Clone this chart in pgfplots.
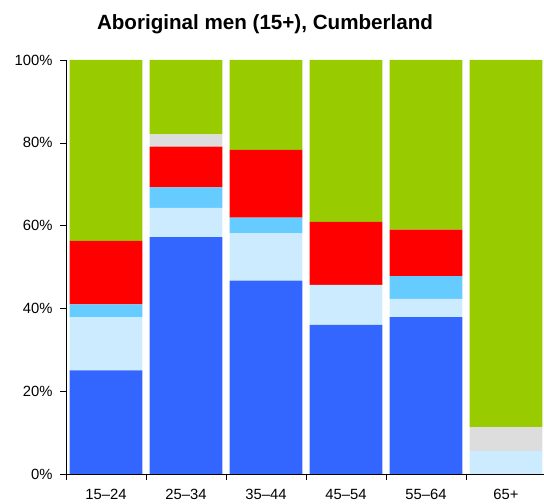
\documentclass[border=0pt]{standalone}
\usepackage{pgfplots}
\pgfplotsset{compat=1.18}
\usepackage{fontspec}
\setmainfont{Liberation Sans}
\definecolor{cblue}{HTML}{3366FF}
\definecolor{clblue}{HTML}{CCEBFF}
\definecolor{ccyan}{HTML}{66CCFF}
\definecolor{cred}{HTML}{FF0000}
\definecolor{cgray}{HTML}{DDDDDD}
\definecolor{cgreen}{HTML}{99CC00}
\begin{document}
\begin{tikzpicture}
\useasboundingbox (-66bp,-30bp) rectangle (478bp,474bp);
\begin{axis}[
  at={(0,0)}, anchor=south west,
  scale only axis,
  width=477.6bp, height=414bp,
  ybar stacked,
  bar width=0.91,
  xmin=-0.5, xmax=5.47,
  ymin=0, ymax=100,
  axis x line*=bottom, axis y line*=left,
  axis line style={black, line width=0.8bp},
  xtick={0,1,2,3,4,5},
  xticklabels={15–24,25–34,35–44,45–54,55–64,65+},
  minor xtick={-0.5,0.5,1.5,2.5,3.5,4.5},
  major x tick style={draw=none},
  minor x tick style={black, line width=0.5bp},
  y tick style={black, line width=0.5bp},
  tick align=outside,
  major tick length=6bp,
  minor tick length=6bp,
  ytick={0,20,40,60,80,100},
  yticklabel={\pgfmathprintnumber{\tick}\%},
  /pgf/number format/assume math mode=true,
  tick label style={font=\fontsize{14.8bp}{17bp}\selectfont},
  yticklabel style={xshift=-4bp},
  xticklabel style={yshift=-6bp},
  every axis plot/.append style={draw=none},
]
\addplot[fill=cblue]  coordinates {(0,25.0) (1,57.2) (2,46.7) (3,36.0) (4,37.9) (5,0)};
\addplot[fill=clblue] coordinates {(0,12.85) (1,7.1) (2,11.4) (3,9.7) (4,4.4) (5,5.6)};
\addplot[fill=ccyan]  coordinates {(0,3.15) (1,4.95) (2,3.8) (3,0) (4,5.5) (5,0)};
\addplot[fill=cred]   coordinates {(0,15.3) (1,9.85) (2,16.4) (3,15.2) (4,11.2) (5,0)};
\addplot[fill=cgray]  coordinates {(0,0) (1,2.95) (2,0) (3,0) (4,0) (5,5.7)};
\addplot[fill=cgreen] coordinates {(0,43.7) (1,17.95) (2,21.7) (3,39.1) (4,41.0) (5,88.7)};
\end{axis}
\node[anchor=base, font=\bfseries\fontsize{20.6bp}{24bp}\selectfont] at (199bp,444bp) {Aboriginal men (15+), Cumberland};
\end{tikzpicture}
\end{document}
